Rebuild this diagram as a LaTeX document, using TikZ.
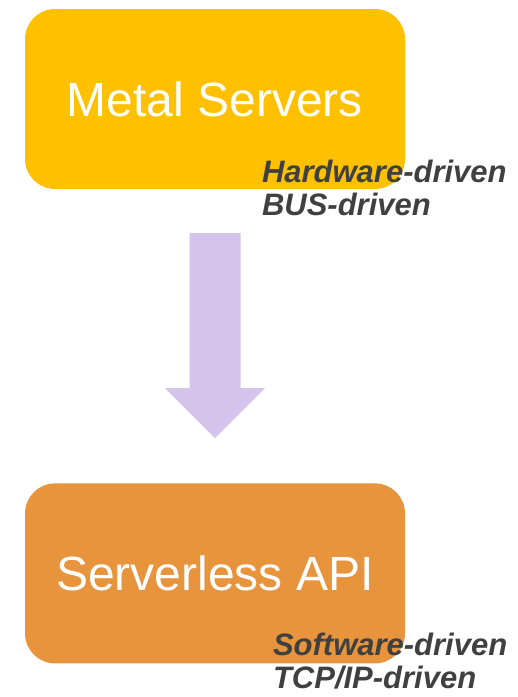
\documentclass[tikz,border=0pt]{standalone}
\usepackage{fontspec}
\setmainfont{Liberation Sans}
\usetikzlibrary{positioning, calc}
\definecolor{metalfill}{HTML}{FFC000}
\definecolor{serverfill}{HTML}{E8943C}
\definecolor{arrowfill}{HTML}{D4C3EB}
\definecolor{labelgray}{HTML}{404040}

\begin{document}
\begin{tikzpicture}[
    box/.style = {rectangle, rounded corners = 30pt, minimum width = 380pt,
                  minimum height = 180pt, inner sep = 0pt, text = white,
                  font = \fontsize{48}{50}\selectfont},
    driven/.style = {align = left, inner sep = 0pt, text = labelgray,
                     font = \fontsize{31}{33}\selectfont\bfseries\itshape}
]

\useasboundingbox (0,0) rectangle (518pt,-697pt);

% Boxes
\node[box, fill = metalfill]                         (metal)  at (215pt,-99pt) {Metal Servers};
\node[box, fill = serverfill, below = 294pt of metal] (server) {Serverless API};

% Arrow
\coordinate (top) at ($(metal.south)+(0,-44pt)$);
\coordinate (tip) at ($(server.north)+(0,45pt)$);
\fill[arrowfill] ($(top)+(-25.5pt,0)$) -- ($(top)+(25.5pt,0)$)
    -- ($(tip)+(25.5pt,50pt)$) -- ($(tip)+(50pt,50pt)$) -- (tip)
    -- ($(tip)+(-50pt,50pt)$) -- ($(tip)+(-25.5pt,50pt)$) -- cycle;

% Labels
\node[driven, anchor = base west] (hw) at ($(metal.south west)+(237pt,-26pt)$)
    {Hardware-driven\\BUS-driven};
\node[driven, anchor = base west] (sw) at ($(server.south west)+(248pt,-25pt)$)
    {Software-driven\\TCP/IP-driven};

\end{tikzpicture}
\end{document}
